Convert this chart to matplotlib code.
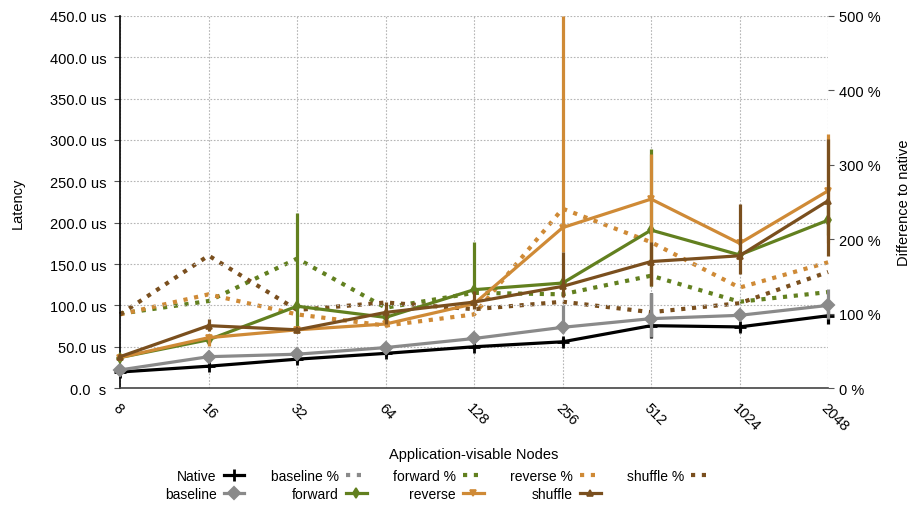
import numpy as np
import matplotlib
matplotlib.use("Agg")
import matplotlib.pyplot as plt
from matplotlib.lines import Line2D

plt.rcParams["font.family"] = ["Liberation Sans", "DejaVu Sans"]

# =====================================================
# DATA
# =====================================================

nodes = ["8", "16", "32", "64", "128", "256", "512", "1024", "2048"]

native = [19.5, 26.5, 35, 42, 50, 56, 75.5, 74, 87.5]
native_lo = [18, 24, 32, 39, 47, 52, 61, 69, 77]
native_hi = [21, 29, 38, 45, 53, 60, 115, 78, 94]

baseline = [22, 38, 41, 49, 60, 73.5, 84, 88, 100]
baseline_lo = [20, 35, 38, 46, 56, 67, 62, 84, 83]
baseline_hi = [24, 41, 44, 52, 65, 101, 115, 92, 120]

forward = [37, 58.5, 99, 85.5, 119, 127, 191, 161, 203]
forward_lo = [35, 55, 71, 80, 115, 120, 124, 155, 185]
forward_hi = [39, 62, 212, 90, 177, 135, 289, 167, 225]

reverse = [37, 61, 70.5, 77.5, 102, 194, 228.5, 175, 238.5]
reverse_lo = [35, 51, 67, 74, 98, 164, 125, 168, 175]
reverse_hi = [39, 66, 74, 81, 106, 450, 283, 182, 307]

shuffle = [38, 75.5, 70.5, 91.5, 104, 123, 153, 160, 226.5]
shuffle_lo = [36, 69, 68, 77, 96, 110, 124, 138, 160]
shuffle_hi = [40, 83, 73, 104, 118, 164, 177, 222, 301]

# difference to native, in %
baseline_pct = [np.nan] * 9
forward_pct = [100, 117, 174, 108, 128, 126, 151, 116, 129]
reverse_pct = [99, 126, 99, 84, 99, 241, 196, 135, 169]
shuffle_pct = [99, 178, 105, 115, 106, 116, 102, 114, 156]

# =====================================================
# STYLE
# =====================================================

C_NATIVE = "#000000"
C_BASE = "#8a8a8a"
C_FWD = "#62801f"
C_REV = "#cf8a36"
C_SHUF = "#7a4f1e"

LW = 2.3
DLW = 3.0
DOT = (0, (1, 1.6))

x = np.arange(len(nodes))

fig = plt.figure(figsize=(9.1, 5.1), dpi=100)
ax = fig.add_axes([0.132, 0.237, 0.778, 0.730])
ax2 = ax.twinx()

# solid lines above the dotted ones
ax.set_zorder(ax2.get_zorder() + 1)
ax.patch.set_visible(False)

# =====================================================
# PERCENT (right axis)
# =====================================================

for pct, c in [(baseline_pct, C_BASE), (forward_pct, C_FWD),
               (reverse_pct, C_REV), (shuffle_pct, C_SHUF)]:
    ax2.plot(x, pct, color=c, lw=DLW, linestyle=DOT, clip_on=False)

# =====================================================
# LATENCY (left axis)
# =====================================================

series = [
    (native, native_lo, native_hi, C_NATIVE, "+", 8, 2),
    (baseline, baseline_lo, baseline_hi, C_BASE, "D", 6, 1.5),
    (forward, forward_lo, forward_hi, C_FWD, "d", 5, 1.2),
    (reverse, reverse_lo, reverse_hi, C_REV, "v", 5, 1.2),
    (shuffle, shuffle_lo, shuffle_hi, C_SHUF, "^", 5, 1.2),
]

order = [1, 0, 2, 3, 4]

for i in order:
    y, lo, hi, c, m, ms, mew = series[i]
    y = np.array(y)
    yerr = [y - np.array(lo), np.array(hi) - y]
    eb = ax.errorbar(
        x, y, yerr=yerr,
        color=c, ecolor=c, elinewidth=LW, lw=LW,
        marker=m, ms=ms, mew=mew, capsize=0,
        clip_on=False, zorder=2 + i
    )
    for part in eb.lines[2]:
        part.set_clip_on(False)

# =====================================================
# AXES
# =====================================================

ax.set_xlim(0, len(nodes) - 1)
ax.set_ylim(0, 450)
ax2.set_ylim(0, 500)

yt = np.arange(0, 451, 50)
ax.set_yticks(yt)
ax.set_yticklabels(["0.0  s"] + [f"{v:.1f} us" for v in yt[1:]])
ax2.set_yticks(np.arange(0, 501, 100))
ax2.set_yticklabels([f"{v} %" for v in range(0, 501, 100)])

ax.set_xticks(x)
ax.set_xticklabels(nodes, rotation=-45, ha="left", va="top",
                   rotation_mode="anchor")

ax.tick_params(axis="both", labelsize=10.5, length=4, color="#555555")
ax.tick_params(axis="y", pad=6)
ax.tick_params(axis="x", length=0, pad=9)
ax2.tick_params(axis="y", labelsize=10.5, length=4, color="#555555")

ax.grid(True, linestyle=(0, (1.5, 1.5)), color="#b5b5b5", lw=0.8)
ax.set_axisbelow(True)

for s in ["top", "right"]:
    ax.spines[s].set_visible(False)
for s in ["top", "right", "left", "bottom"]:
    ax2.spines[s].set_visible(False)
ax.spines["left"].set_color("#000000")
ax.spines["left"].set_linewidth(1.2)
ax.spines["bottom"].set_color("#444444")
ax.spines["bottom"].set_linewidth(1.2)

ax.set_ylabel("Latency", fontsize=10.5, labelpad=18)
ax2.set_ylabel("Difference to native", fontsize=10.5, labelpad=12)
ax.set_xlabel("Application-visable Nodes", fontsize=10.5, labelpad=10)

# =====================================================
# LEGEND
# =====================================================

def h(c, m=None, ms=5, mew=1.2, ls="-", lw=LW):
    return Line2D([], [], color=c, lw=lw, linestyle=ls,
                  marker=m, ms=ms, mew=mew)

handles = [
    h(C_NATIVE, "+", 8, 2), h(C_BASE, "D", 6, 1.5),
    h(C_BASE, ls=DOT, lw=DLW), h(C_FWD, "d", 5),
    h(C_FWD, ls=DOT, lw=DLW), h(C_REV, "v", 5),
    h(C_REV, ls=DOT, lw=DLW), h(C_SHUF, "^", 5),
    h(C_SHUF, ls=DOT, lw=DLW),
]
labels = ["Native", "baseline", "baseline %", "forward", "forward %",
          "reverse", "reverse %", "shuffle", "shuffle %"]

fig.legend(handles, labels, ncol=5, loc="center",
           bbox_to_anchor=(0.482, 0.047), frameon=False,
           markerfirst=False, fontsize=10, handlelength=1.5,
           columnspacing=1.9, handletextpad=0.5, labelspacing=0.25)

fig.savefig("out.png", dpi=100)
